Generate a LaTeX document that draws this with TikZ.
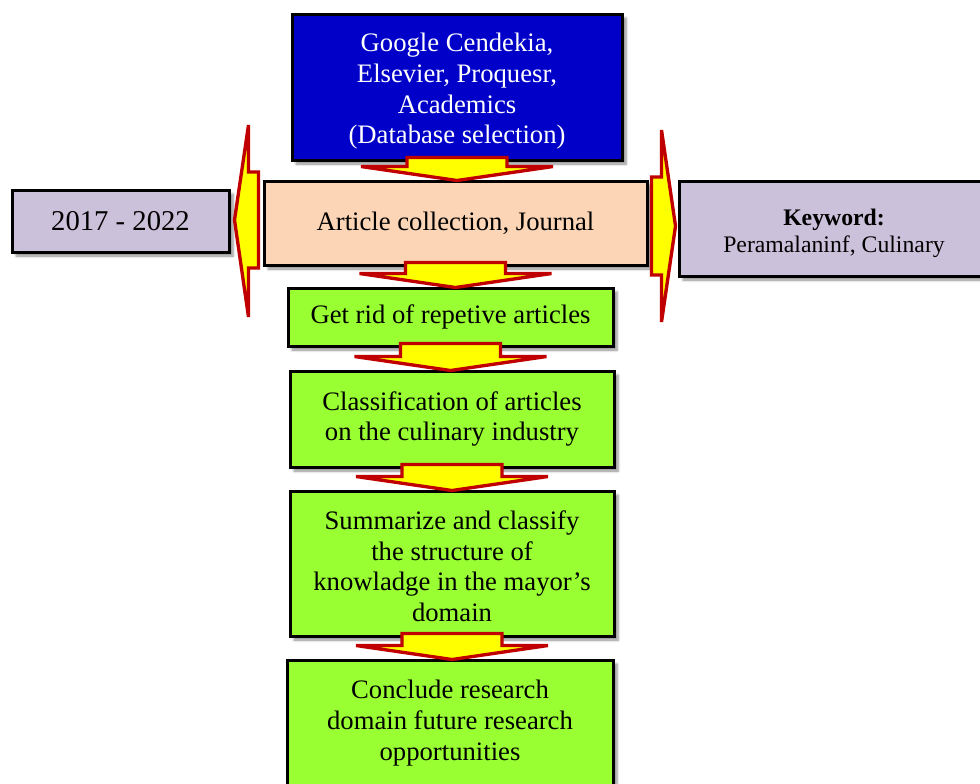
\documentclass[tikz,border=0pt]{standalone}
\usepackage{fontspec}
\setmainfont{Liberation Serif}
\usetikzlibrary{calc,shadows.blur}
\definecolor{boxblue}{RGB}{0,0,200}
\definecolor{boxpeach}{RGB}{251,213,181}
\definecolor{boxlav}{RGB}{204,193,218}
\definecolor{boxgreen}{RGB}{153,255,51}
\definecolor{arrred}{RGB}{192,0,0}
\definecolor{arryellow}{RGB}{255,255,0}
\tikzset{
  box/.style={draw=black, line width=2.25pt, rectangle, inner sep=0pt, align=center,
    font=\fontsize{20}{23}\selectfont,
    blur shadow={shadow xshift=3pt, shadow yshift=-3pt, shadow blur steps=6, shadow opacity=45}},
  barrow/.style={draw=arrred, fill=arryellow, line width=2.5pt, line join=miter},
}
\newcommand\TopStrut[1]{\rule{0pt}{#1}}
\newcommand\BlockDown[2]{%
  \draw[barrow] ($(#1.south)+(-50,-4)$) -- ($(#1.south)+(50,-4)$)
    -- ($(#1.south |- #2.north)+(50,-13)$) -- ($(#1.south |- #2.north)+(96,-13)$)
    -- ($(#1.south |- #2.north)+(0,1)$) -- ($(#1.south |- #2.north)+(-96,-13)$)
    -- ($(#1.south |- #2.north)+(-50,-13)$) -- cycle;}
\begin{document}
\begin{tikzpicture}[x=0.75pt,y=-0.75pt]
\useasboundingbox (0,0) rectangle (980,783);
\node[box, fill=boxblue, text=white, minimum width=247.5pt, minimum height=109.5pt] (db) at (457,87)
  {\TopStrut{20.5pt}Google Cendekia,\\Elsevier, Proquesr,\\Academics\\(Database selection)};
\node[box, fill=boxpeach, minimum width=287.25pt, minimum height=63pt] (coll) at (455.5,223)
  {Article collection, Journal};
\node[box, fill=boxlav, minimum width=162.75pt, minimum height=46.5pt, font=\fontsize{21.5}{24}\selectfont] (years) at (120.5,221)
  {2017 - 2022};
\node[box, fill=boxlav, minimum width=232.5pt, minimum height=71.25pt, font=\fontsize{17.8}{20.3}\selectfont] (kw) at (834,228.5)
  {\TopStrut{19.8pt}\textbf{Keyword:}\\Peramalaninf, Culinary};
\node[box, fill=boxgreen, minimum width=243.75pt, minimum height=43.5pt] (g1) at (450.5,317)
  {Get rid of repetive articles};
\node[box, fill=boxgreen, minimum width=243pt, minimum height=72pt] (g2) at (452,419)
  {Classification of articles\\on the culinary industry};
\node[box, fill=boxgreen, minimum width=243pt, minimum height=108.75pt] (g3) at (452,563.5)
  {\TopStrut{18.2pt}Summarize and classify\\the structure of\\knowladge in the mayor’s\\domain};
\node[box, fill=boxgreen, minimum width=244.5pt, minimum height=94.5pt] (g4) at (450,723)
  {Conclude research\\domain future research\\opportunities};
\BlockDown{db}{coll}
\BlockDown{coll}{g1}
\BlockDown{g1}{g2}
\BlockDown{g2}{g3}
\BlockDown{g3}{g4}
\coordinate (L) at (years.east |- coll.west);
\draw[barrow] ($(coll.west)+(-4,-51)$) -- ($(coll.west)+(-4,45)$) -- ($(L)+(18,45)$)
  -- ($(L)+(18,94)$) -- ($(L)+(4,-3)$) -- ($(L)+(18,-98)$) -- ($(L)+(18,-51)$) -- cycle;
\coordinate (K) at (kw.west |- coll.east);
\draw[barrow] ($(coll.east)+(3,-46)$) -- ($(coll.east)+(3,52)$) -- ($(K)+(-16,52)$)
  -- ($(K)+(-16,99)$) -- ($(K)+(-2,3)$) -- ($(K)+(-16,-93)$) -- ($(K)+(-16,-46)$) -- cycle;
\end{tikzpicture}
\end{document}
